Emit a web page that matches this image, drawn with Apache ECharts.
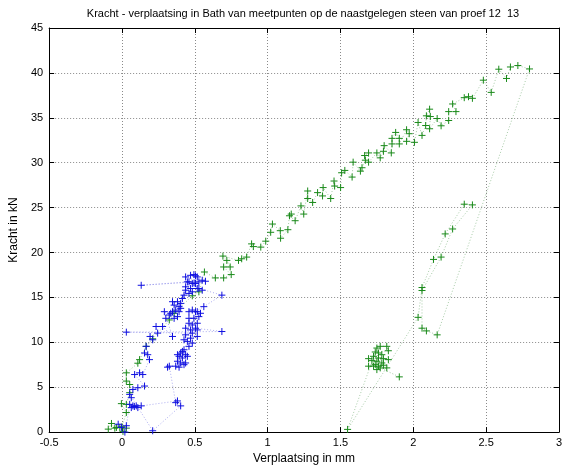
<!DOCTYPE html>
<html><head><meta charset="utf-8">
<script src="https://cdn.jsdelivr.net/npm/echarts@6/dist/echarts.min.js"></script>
<style>html,body{margin:0;padding:0;background:#fff}#c{width:565px;height:470px}</style>
</head><body><div id="c"></div>
<script>
const titleText = 'Kracht - verplaatsing in Bath van meetpunten op de naastgelegen steen van proef 12  13';
const xName = 'Verplaatsing in mm';
const yName = 'Kracht in kN';
const xTicks = [-0.5, 0, 0.5, 1, 1.5, 2, 2.5, 3];
const yTicks = [0, 5, 10, 15, 20, 25, 30, 35, 40, 45];

const greenX = [-0.094,-0.072,-0.049,-0.038,-0.015,0.007,0.03,0.0,0.03,-0.004,0.03,0.053,0.053,0.03,0.03,0.109,0.121,0.166,0.211,0.325,0.358,0.483,0.528,0.566,0.641,0.698,0.75,0.698,0.743,0.72,0.693,0.8,0.822,0.856,0.89,0.902,0.953,0.987,1.021,1.033,1.087,1.089,1.139,1.15,1.162,1.189,1.229,1.248,1.275,1.275,1.309,1.343,1.377,1.381,1.433,1.456,1.46,1.501,1.508,1.53,1.58,1.587,1.637,1.648,1.671,1.666,1.693,1.693,1.75,1.773,1.795,1.8,1.849,1.854,1.854,1.879,1.904,1.904,1.954,1.972,1.954,2.008,2.033,2.06,2.085,2.09,2.112,2.117,2.112,2.164,2.191,2.243,2.243,2.293,2.27,2.35,2.379,2.406,2.481,2.535,2.587,2.64,2.667,2.718,2.798,
  2.164,2.09,2.06,2.06,2.191,2.27,2.406,2.35,2.219,2.139,2.06,2.033,1.549,
  1.75,1.773,1.818,1.829,1.739,1.761,1.784,1.727,1.761,1.795,1.829,1.693,1.716,1.75,1.784,1.739,1.693,1.727,1.761,1.795,1.818,1.75,1.773,1.904];
const greenY = [0.33,0.96,0.44,0.52,0.52,0.08,0.44,0.6,2.18,3.17,3.09,4.39,5.3,5.68,6.6,7.67,8.07,9.55,10.39,12.49,13.23,15.18,15.62,17.83,17.17,17.17,17.54,18.39,18.39,19.12,19.6,19.12,19.3,19.49,20.96,20.66,20.6,21.26,22.25,23.17,22.43,21.59,22.54,24.09,24.28,23.54,25.19,24.28,26.85,26.01,25.57,26.67,26.3,27.23,26.01,27.96,27.4,27.23,28.88,29.14,28.4,30.06,29.06,29.44,30.28,30.8,31.09,30.06,31.09,30.54,31.27,31.9,31.09,32.09,32.71,33.37,32.71,32.09,33.67,33.23,32.38,32.27,34.48,33.04,34.14,35.22,35.96,35.14,33.78,34.92,34.11,34.7,35.69,35.69,36.54,37.24,37.35,37.17,39.19,37.83,40.41,39.38,40.66,40.82,40.44,
  10.83,11.27,11.57,15.77,19.49,22.62,25.3,25.38,22.07,19.23,16.1,12.78,0.3,
  9.36,9.55,9.55,9.06,8.92,8.81,8.62,8.44,8.25,8.18,8.07,8.18,7.96,7.89,7.7,7.51,7.34,7.34,7.34,7.45,7.15,6.96,7.15,6.15];

const blueX = [0.02,-0.004,-0.026,0.03,0.053,0.064,0.075,0.085,0.098,0.109,0.132,0.381,0.403,0.211,0.053,0.064,0.075,0.109,0.155,0.087,0.121,0.143,0.189,0.155,0.177,0.166,0.211,0.193,0.245,0.234,0.279,0.347,0.291,0.325,0.301,0.358,0.381,0.335,0.347,0.392,0.369,0.358,0.392,0.403,0.347,0.381,0.403,0.415,0.437,0.46,0.483,0.426,0.437,0.471,0.517,0.551,0.449,0.483,0.495,0.505,0.528,0.437,0.471,0.494,0.505,0.517,0.551,0.573,0.132,0.46,0.528,0.686,0.562,0.505,0.539,0.46,0.483,0.517,0.494,0.528,0.46,0.483,0.517,0.46,0.437,0.471,0.505,0.517,0.686,0.03,0.483,0.437,0.517,0.471,0.426,0.449,0.483,0.46,0.426,0.415,0.403,0.437,0.381,0.449,0.392,0.415,0.381,0.437,0.403,0.426,0.369,0.392,0.325,0.313,0.369];
const blueY = [0.0,0.52,0.88,0.71,3.09,2.73,2.92,2.85,2.92,2.73,2.92,3.47,2.92,0.15,4.2,3.83,4.75,4.94,5.13,6.41,6.6,6.41,8.07,8.81,8.62,9.55,10.28,10.65,11.02,11.76,11.76,10.65,13.41,13.04,12.67,12.67,12.86,13.23,13.41,13.41,13.59,14.14,13.97,13.78,14.52,14.52,14.33,14.88,15.8,15.44,15.62,15.25,16.18,15.99,15.99,15.8,16.73,16.54,16.6,16.54,16.73,17.28,17.46,17.54,17.4,17.28,16.91,16.8,16.35,16.73,15.99,15.25,13.97,13.41,13.23,13.41,13.59,13.41,12.67,12.86,12.67,11.93,12.12,12.12,11.57,11.38,11.57,11.38,11.2,11.13,11.02,10.83,10.65,10.46,10.28,10.1,9.91,9.55,9.17,8.99,8.81,8.62,8.62,8.44,8.44,8.25,7.89,7.7,7.7,7.51,7.34,7.23,7.34,7.23,3.28];

function pairs(xs, ys) { return xs.map((x, i) => [x, ys[i]]); }
const plus = 'path://M0,5L10,5M5,0L5,10';
const font = 'Liberation Sans';

const chart = echarts.init(document.getElementById('c'), null, {renderer: 'canvas'});
function axisBase(pos, isX, show) {
  return {
    type: 'value', position: pos,
    min: isX ? xTicks[0] : yTicks[0],
    max: isX ? xTicks[xTicks.length - 1] : yTicks[yTicks.length - 1],
    interval: isX ? xTicks[1] - xTicks[0] : yTicks[1] - yTicks[0],
    axisLine: {show: true, onZero: false, lineStyle: {color: '#000', width: 1}},
    axisTick: {show: true, inside: true, length: 5, lineStyle: {color: '#000'}},
    axisLabel: {show: show, color: '#000', fontSize: 11, fontFamily: font, margin: isX ? 5 : 6},
    splitLine: {show: show, lineStyle: {color: '#8a8a8a', type: [1, 2], width: 1}}
  };
}
const xb = axisBase('bottom', true, true);
xb.name = xName; xb.nameLocation = 'middle'; xb.nameGap = 16;
xb.nameTextStyle = {color: '#000', fontSize: 12, fontFamily: font};
const yl = axisBase('left', false, true);
yl.name = yName; yl.nameLocation = 'middle'; yl.nameGap = 24;
yl.nameTextStyle = {color: '#000', fontSize: 12, fontFamily: font};

chart.setOption({
  animation: false,
  backgroundColor: '#fff',
  grid: {left: 45, right: 4, top: 28, bottom: 36, containLabel: false},
  graphic: [{type: 'text', x: 303, y: 14,
    style: {text: titleText, fill: '#000', font: '11px "Liberation Sans"', align: 'center', verticalAlign: 'middle'}}],
  xAxis: [xb, axisBase('top', true, false)],
  yAxis: [yl, axisBase('right', false, false)],
  series: [
    {type: 'line', name: 'green', data: pairs(greenX, greenY), symbol: plus, symbolSize: 7, showSymbol: true,
     lineStyle: {color: 'rgba(60,140,60,0.45)', width: 1, type: [1, 2]},
     itemStyle: {color: 'none', borderColor: '#1a8a1a', borderWidth: 1}, z: 2},
    {type: 'line', name: 'blue', data: pairs(blueX, blueY), symbol: plus, symbolSize: 7, showSymbol: true,
     lineStyle: {color: 'rgba(70,70,220,0.45)', width: 1, type: [1, 2]},
     itemStyle: {color: 'none', borderColor: '#1010e0', borderWidth: 1}, z: 3}
  ]
});
</script></body></html>
